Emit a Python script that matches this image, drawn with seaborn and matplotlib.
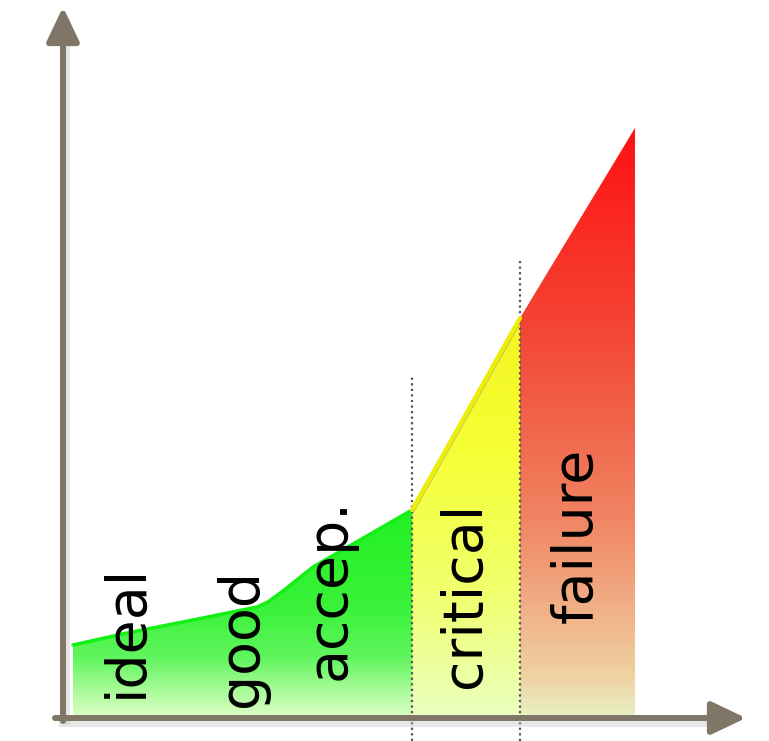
import numpy as np
import matplotlib
matplotlib.use("Agg")
import matplotlib.pyplot as plt
from matplotlib.colors import LinearSegmentedColormap
from matplotlib.patches import Polygon
import seaborn as sns

# --- data ---
zone_labels = ["ideal", "good", "accep.", "critical", "failure"]
curve_x = [10, 64, 130, 194, 205, 220, 235, 250, 297, 349, 457, 572]
curve_y = [73, 85, 98, 111, 116, 127, 139, 151, 178, 208, 400, 590]
zone_edges = [10, 349, 457, 572]          # green | yellow | red
divider_x = [349, 457]
divider_top = [343, 460]

green_stops = [(0, "#dcffc6"), (25, "#aefb9c"), (60, "#60f55e"), (110, "#3af23a"), (210, "#22f022")]
yellow_stops = [(0, "#eaffc0"), (120, "#f0ff70"), (270, "#f6ff34"), (400, "#f4f420")]
red_stops = [(0, "#e8f0c4"), (40, "#efd2a2"), (120, "#f1aa82"), (200, "#f08462"),
             (300, "#f1634a"), (400, "#f44232"), (590, "#ff1212")]

# label layout (baseline x, start y)
label_x = [79, 194, 282, 417, 529]
label_y = [20, 11, 38, 30, 95]

axis_color = "#7f7668"

sns.set_theme(style="white")
plt.rcParams['font.family'] = ['DejaVu Sans']

fig = plt.figure(figsize=(7.69, 7.41), dpi=100)
ax = fig.add_axes([0, 0, 1, 1])
ax.set_xlim(-63, 706)
ax.set_ylim(-23, 718)
ax.axis("off")

cx = np.array(curve_x, dtype=float)
cy = np.array(curve_y, dtype=float)


def make_cmap(stops):
    top = stops[-1][0]
    return LinearSegmentedColormap.from_list("g", [(v / top, c) for v, c in stops]), top


def fill_zone(x0, x1, stops):
    mask = (cx >= x0) & (cx <= x1)
    px = list(cx[mask]) + [x1, x0]
    py = list(cy[mask]) + [0, 0]
    poly = Polygon(np.column_stack([px, py]), closed=True, facecolor="none",
                   edgecolor="none", transform=ax.transData)
    ax.add_patch(poly)
    cmap, top = make_cmap(stops)
    grad = np.linspace(0, max(py), 300).reshape(-1, 1)
    im = ax.imshow(grad, extent=[x0, x1, 0, max(py)], origin="lower", aspect="auto",
                   cmap=cmap, vmin=0, vmax=top, zorder=1)
    im.set_clip_path(poly)


fill_zone(zone_edges[0], zone_edges[1], green_stops)
fill_zone(zone_edges[1], zone_edges[2], yellow_stops)
fill_zone(zone_edges[2], zone_edges[3], red_stops)

# top edges
gm = cx <= zone_edges[1]
sns.lineplot(x=cx[gm], y=cy[gm], ax=ax, color="#14f014", lw=2.5, sort=False,
             estimator=None, zorder=3)
ym = (cx >= zone_edges[1]) & (cx <= zone_edges[2])
sns.lineplot(x=cx[ym], y=cy[ym] - 5, ax=ax, color="#a8a880", lw=1.0, alpha=0.6,
             sort=False, estimator=None, zorder=3)
sns.lineplot(x=cx[ym], y=cy[ym], ax=ax, color="#eeee00", lw=3, sort=False,
             estimator=None, zorder=3)

# dotted dividers
ax.vlines(divider_x, -23, divider_top, colors="#555555", linestyles=(0, (1, 1.5)),
          lw=1.6, zorder=2)

# axes with arrows (soft shadow first)
ax.plot([3, 3], [-6, 680], color="#bbbbbb", lw=5, alpha=0.35, solid_capstyle="butt", zorder=3)
ax.plot([-5, 655], [-5, -5], color="#bbbbbb", lw=5, alpha=0.35, solid_capstyle="butt", zorder=3)
head = "-|>,head_length=2.1,head_width=1.0"
ax.annotate("", xy=(0, 711), xytext=(0, -3),
            arrowprops=dict(arrowstyle=head, lw=4.3, mutation_scale=10,
                            color=axis_color, shrinkA=0, shrinkB=0), zorder=4)
ax.annotate("", xy=(683, 0), xytext=(-8, 0),
            arrowprops=dict(arrowstyle=head, lw=4.3, mutation_scale=10,
                            color=axis_color, shrinkA=0, shrinkB=0), zorder=4)

for lab, x, y in zip(zone_labels, label_x, label_y):
    ax.text(x, y, lab, rotation=90, rotation_mode="anchor", ha="left", va="baseline",
            fontsize=40, color="black", zorder=5)

fig.savefig("out.png", dpi=100)
